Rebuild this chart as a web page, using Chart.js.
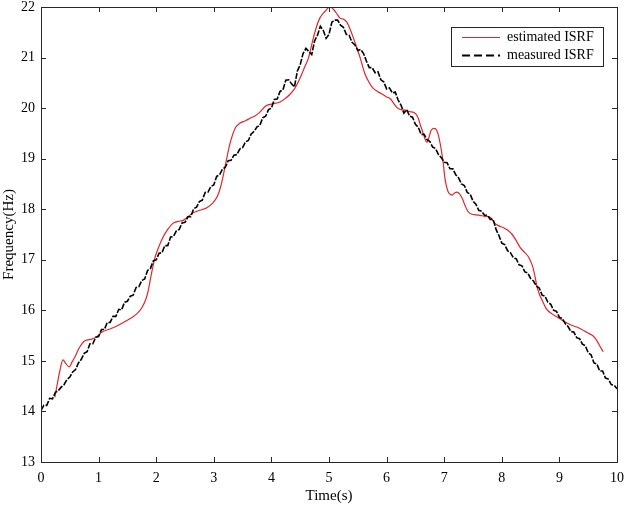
<!DOCTYPE html>
<html><head><meta charset="utf-8">
<script src="https://cdn.jsdelivr.net/npm/chart.js@4"></script>
<style>html,body{margin:0;padding:0;background:#fff}#wrap{width:625px;height:507px}</style>
</head><body><div id="wrap"><canvas id="c" width="625" height="507"></canvas></div>
<script>
const seriesNames = ['estimated ISRF', 'measured ISRF'];
const xTicks = [0,1,2,3,4,5,6,7,8,9,10];
const yTicks = [13,14,15,16,17,18,19,20,21,22];

const measuredTime = [0,0.05,0.1,0.15,0.2,0.25,0.3,0.35,0.4,0.45,0.5,0.55,0.6,0.65,0.7,0.75,0.8,0.85,0.9,0.95,1,1.05,1.1,1.15,1.2,1.25,1.3,1.35,1.4,1.45,1.5,1.55,1.6,1.65,1.7,1.75,1.8,1.85,1.9,1.95,2,2.05,2.1,2.15,2.2,2.25,2.3,2.35,2.4,2.45,2.5,2.55,2.6,2.65,2.7,2.75,2.8,2.85,2.9,2.95,3,3.05,3.1,3.15,3.2,3.25,3.3,3.35,3.4,3.45,3.5,3.55,3.6,3.65,3.7,3.75,3.8,3.85,3.9,3.95,4,4.05,4.1,4.15,4.2,4.25,4.3,4.35,4.4,4.45,4.5,4.55,4.6,4.65,4.7,4.75,4.8,4.85,4.9,4.95,5,5.05,5.1,5.15,5.2,5.25,5.3,5.35,5.4,5.45,5.5,5.55,5.6,5.65,5.7,5.75,5.8,5.85,5.9,5.95,6,6.05,6.1,6.15,6.2,6.25,6.3,6.35,6.4,6.45,6.5,6.55,6.6,6.65,6.7,6.75,6.8,6.85,6.9,6.95,7,7.05,7.1,7.15,7.2,7.25,7.3,7.35,7.4,7.45,7.5,7.55,7.6,7.65,7.7,7.75,7.8,7.85,7.9,7.95,8,8.05,8.1,8.15,8.2,8.25,8.3,8.35,8.4,8.45,8.5,8.55,8.6,8.65,8.7,8.75,8.8,8.85,8.9,8.95,9,9.05,9.1,9.15,9.2,9.25,9.3,9.35,9.4,9.45,9.5,9.55,9.6,9.65,9.7,9.75,9.8,9.85,9.9,9.95,10];
const measuredFreq = [14.02,14.12,14.12,14.26,14.25,14.38,14.41,14.48,14.53,14.63,14.68,14.78,14.83,14.96,15.03,15.15,15.18,15.34,15.34,15.47,15.48,15.62,15.62,15.76,15.76,15.88,15.88,16.02,16.01,16.16,16.18,16.28,16.3,16.45,16.47,16.59,16.62,16.79,16.83,16.98,17.0,17.13,17.14,17.28,17.28,17.45,17.46,17.57,17.6,17.73,17.74,17.85,17.85,18.01,18.04,18.15,18.18,18.33,18.34,18.45,18.48,18.65,18.68,18.79,18.83,18.96,18.97,19.07,19.08,19.19,19.22,19.33,19.36,19.49,19.54,19.63,19.66,19.81,19.84,19.97,20.0,20.17,20.18,20.33,20.36,20.55,20.56,20.48,20.42,20.73,20.86,21.08,21.18,21.12,21.06,21.33,21.44,21.62,21.54,21.38,21.46,21.7,21.74,21.74,21.64,21.6,21.46,21.44,21.3,21.25,21.14,21.16,21.08,20.93,20.8,20.8,20.7,20.72,20.56,20.52,20.38,20.4,20.3,20.32,20.16,20.06,19.9,19.97,19.84,19.82,19.68,19.62,19.48,19.48,19.38,19.34,19.23,19.2,19.08,19.02,18.93,18.92,18.8,18.8,18.68,18.62,18.5,18.47,18.33,18.3,18.16,18.1,17.98,17.96,17.88,17.88,17.8,17.8,17.6,17.48,17.33,17.3,17.18,17.14,17.04,17.02,16.9,16.88,16.76,16.74,16.63,16.58,16.48,16.44,16.3,16.28,16.16,16.12,16.0,15.98,15.86,15.84,15.74,15.68,15.58,15.57,15.46,15.44,15.33,15.3,15.16,15.12,14.96,14.94,14.8,14.8,14.66,14.64,14.53,14.52,14.45];

const estimatedTime = [0.24,0.30,0.33,0.38,0.43,0.49,0.54,0.59,0.66,0.76,0.88,0.97,1.06,1.17,1.28,1.43,1.58,1.68,1.75,1.82,1.86,1.90,1.94,1.98,2.05,2.12,2.20,2.29,2.38,2.47,2.56,2.64,2.76,2.88,2.98,3.06,3.12,3.17,3.22,3.27,3.32,3.38,3.45,3.55,3.63,3.72,3.80,3.90,4.00,4.15,4.25,4.32,4.40,4.46,4.53,4.58,4.64,4.72,4.78,4.84,4.92,5.02,5.08,5.14,5.19,5.25,5.31,5.37,5.42,5.48,5.54,5.59,5.62,5.69,5.76,5.84,5.92,6.00,6.06,6.12,6.18,6.25,6.32,6.40,6.46,6.51,6.55,6.59,6.63,6.67,6.70,6.73,6.77,6.82,6.86,6.89,6.93,6.96,6.99,7.01,7.04,7.07,7.11,7.14,7.18,7.22,7.27,7.31,7.36,7.41,7.48,7.55,7.62,7.70,7.80,7.88,7.95,8.02,8.10,8.18,8.25,8.32,8.40,8.45,8.50,8.54,8.58,8.61,8.66,8.70,8.78,8.87,8.96,9.05,9.13,9.22,9.30,9.39,9.48,9.55,9.62,9.69,9.76];
const estimatedFreq = [14.28,14.65,14.82,15.02,14.95,14.88,14.98,15.08,15.25,15.40,15.43,15.48,15.57,15.62,15.67,15.76,15.86,15.95,16.05,16.22,16.38,16.62,16.85,17.05,17.27,17.45,17.60,17.72,17.76,17.78,17.86,17.93,17.98,18.03,18.12,18.25,18.45,18.70,18.98,19.25,19.45,19.62,19.70,19.75,19.80,19.85,19.92,20.04,20.08,20.12,20.20,20.27,20.38,20.50,20.68,20.82,20.98,21.35,21.60,21.78,21.90,22.00,21.95,21.86,21.78,21.76,21.70,21.55,21.40,21.20,21.00,20.80,20.69,20.52,20.40,20.33,20.28,20.22,20.19,20.10,20.01,19.97,19.96,19.93,19.92,19.88,19.80,19.65,19.52,19.38,19.32,19.40,19.55,19.60,19.58,19.50,19.30,19.10,18.85,18.63,18.45,18.34,18.29,18.28,18.32,18.34,18.30,18.22,18.08,17.96,17.90,17.89,17.88,17.86,17.84,17.72,17.67,17.64,17.59,17.50,17.38,17.24,17.14,17.08,16.97,16.85,16.65,16.47,16.30,16.20,16.02,15.93,15.87,15.80,15.75,15.70,15.67,15.62,15.56,15.52,15.45,15.32,15.18];

const FONT = '"Liberation Serif", "Times New Roman", serif';
const RED = '#e3262a';
const BLACK = '#000000';

const toPts = (xs, ys) => xs.map((x, i) => ({x: x, y: ys[i]}));

const boxPlugin = {
  id: 'boxPlugin',
  afterDraw(chart) {
    const ctx = chart.ctx;
    const a = chart.chartArea;
    const xs = chart.scales.x, ys = chart.scales.y;
    ctx.save();
    ctx.strokeStyle = '#262626';
    ctx.lineWidth = 1;
    ctx.strokeRect(Math.round(a.left) + 0.5, Math.round(a.top) + 0.5, Math.round(a.right - a.left), Math.round(a.bottom - a.top));
    const tl = 5;
    ctx.beginPath();
    xTicks.forEach(v => {
      const px = Math.round(xs.getPixelForValue(v)) + 0.5;
      ctx.moveTo(px, a.bottom); ctx.lineTo(px, a.bottom - tl);
      ctx.moveTo(px, a.top); ctx.lineTo(px, a.top + tl);
    });
    yTicks.forEach(v => {
      const py = Math.round(ys.getPixelForValue(v)) + 0.5;
      ctx.moveTo(a.left, py); ctx.lineTo(a.left + tl, py);
      ctx.moveTo(a.right, py); ctx.lineTo(a.right - tl, py);
    });
    ctx.stroke();
    // legend
    const lx = 451, ly = 27, lw = 152, lh = 39;
    ctx.fillStyle = '#fff';
    ctx.fillRect(lx, ly, lw, lh);
    ctx.strokeStyle = '#262626';
    ctx.strokeRect(lx + 0.5, ly + 0.5, lw, lh);
    ctx.font = '14px ' + FONT;
    ctx.textBaseline = 'middle';
    ctx.textAlign = 'left';
    const rows = [{y: 37, c: RED, d: [], w: 1.2}, {y: 55, c: BLACK, d: [8, 4], w: 2}];
    rows.forEach((r, i) => {
      ctx.beginPath();
      ctx.setLineDash(r.d);
      ctx.strokeStyle = r.c;
      ctx.lineWidth = r.w;
      ctx.moveTo(462, r.y + 0.5); ctx.lineTo(500, r.y + 0.5);
      ctx.stroke();
      ctx.setLineDash([]);
      ctx.fillStyle = '#000';
      ctx.fillText(seriesNames[i], 507, r.y);
    });
    ctx.restore();
  }
};

new Chart(document.getElementById('c'), {
  type: 'scatter',
  data: {
    datasets: [
      {label: seriesNames[1], data: toPts(measuredTime, measuredFreq), showLine: true, borderColor: BLACK, borderWidth: 1.6, borderDash: [6, 1.5], pointRadius: 0, tension: 0},
      {label: seriesNames[0], data: toPts(estimatedTime, estimatedFreq), showLine: true, borderColor: RED, borderWidth: 1.2, pointRadius: 0, cubicInterpolationMode: 'monotone'}
    ]
  },
  options: {
    responsive: false,
    animation: false,
    devicePixelRatio: 1,
    layout: {padding: {left: 0, right: 8, top: 7, bottom: 0}},
    plugins: {legend: {display: false}, tooltip: {enabled: false}},
    scales: {
      x: {
        type: 'linear', min: 0, max: 10,
        afterBuildTicks: s => { s.ticks = xTicks.map(v => ({value: v})); },
        afterFit: s => { s.height = 45; s.paddingLeft = 0; s.paddingRight = 0; },
        grid: {display: false, drawTicks: false},
        border: {display: false},
        ticks: {color: '#000', font: {family: FONT, size: 14}, padding: 8, maxRotation: 0},
        title: {display: true, text: 'Time(s)', color: '#000', font: {family: FONT, size: 15}, padding: {top: 0, bottom: 2}}
      },
      y: {
        type: 'linear', min: 13, max: 22,
        afterBuildTicks: s => { s.ticks = yTicks.map(v => ({value: v})); },
        afterFit: s => { s.width = 41; s.paddingTop = 0; s.paddingBottom = 0; },
        grid: {display: false, drawTicks: false},
        border: {display: false},
        ticks: {color: '#000', font: {family: FONT, size: 14}, padding: 6},
        title: {display: true, text: 'Frequency(Hz)', color: '#000', font: {family: FONT, size: 15}, padding: {top: 0, bottom: 0}}
      }
    }
  },
  plugins: [boxPlugin]
});
</script>
</body></html>
